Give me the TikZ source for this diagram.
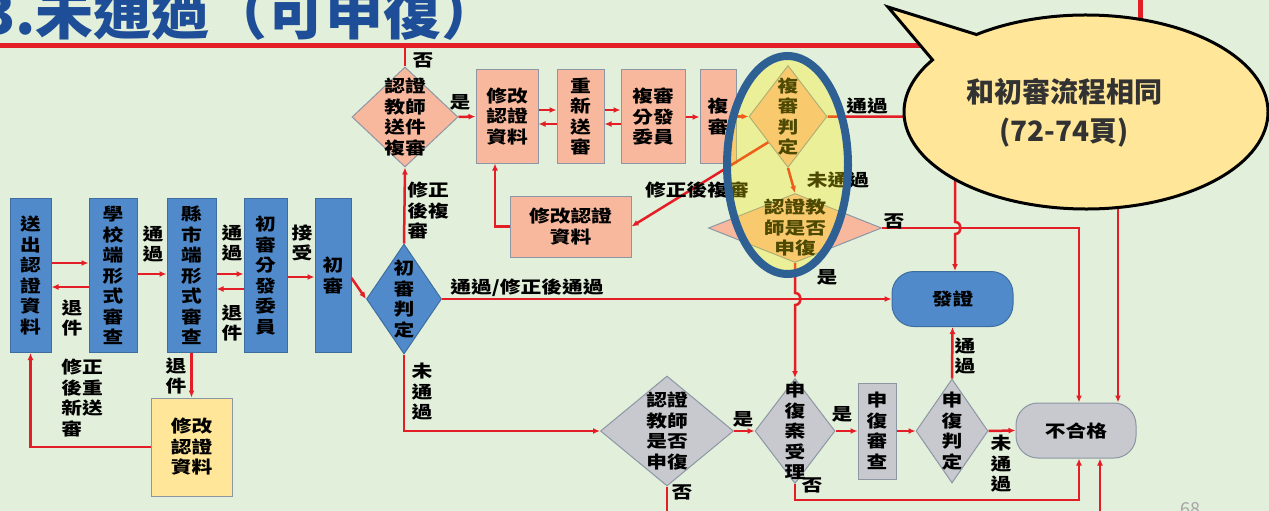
\documentclass[tikz,border=0pt]{standalone}
\usepackage{fontspec}
\setmainfont{Noto Sans CJK TC}
\newfontfamily\dgfont[FakeStretch=1.22]{Noto Sans CJK TC}
\usetikzlibrary{shapes.geometric,arrows.meta,calc}
\definecolor{bgGreen}{RGB}{226,239,218}
\definecolor{lineRed}{RGB}{228,30,38}
\definecolor{titleBlue}{RGB}{31,78,152}
\definecolor{boxBlue}{RGB}{80,138,203}
\definecolor{edgeBlue}{RGB}{62,110,160}
\definecolor{boxPink}{RGB}{247,184,158}
\definecolor{boxGray}{RGB}{200,201,206}
\definecolor{edgeGray}{RGB}{140,150,165}
\definecolor{boxYellow}{RGB}{255,230,153}
\definecolor{ringBlue}{RGB}{46,96,148}
\definecolor{textDark}{RGB}{50,50,50}
\begin{document}
\begin{tikzpicture}[x=1pt, y=1pt, >={Latex[length=7pt,width=6pt]},
  txt/.style = {font=\dgfont\bfseries\fontsize{17}{20.5}\selectfont, align=center, inner sep=0pt},
  lbl/.style = {txt, text=black},
  box/.style = {draw, line width=1pt, txt},
  bluebox/.style = {box, fill=boxBlue, draw=edgeBlue},
  pinkbox/.style = {box, fill=boxPink, draw=edgeGray},
  graybox/.style = {box, fill=boxGray, draw=edgeGray},
  yellowbox/.style = {box, fill=boxYellow, draw=edgeGray},
  dia/.style = {diamond, draw, line width=1pt, inner sep=0pt},
  bluedia/.style = {dia, fill=boxBlue, draw=edgeBlue},
  pinkdia/.style = {dia, fill=boxPink, draw=edgeGray},
  graydia/.style = {dia, fill=boxGray, draw=edgeGray},
  endbox/.style = {box, rounded corners=22pt, minimum width=121, minimum height=55},
  flow/.style = {draw=lineRed, line width=2.5pt},
  arr/.style = {flow, ->}]

  \useasboundingbox (0,0) rectangle (1269,-511);
  \fill[bgGreen] (0,0) rectangle (1269,-511);
  \draw[lineRed, line width=5pt] (-5,-46) -- (1140,-46) -- (1140,5);

  \foreach \nm/\x/\w/\txt in {send/30.5/41/{送\\出\\認\\證\\資\\料},
      school/113/48/{學\\校\\端\\形\\式\\審\\查}, county/191.5/49/{縣\\市\\端\\形\\式\\審\\查},
      assign/265.5/43/{初\\審\\分\\發\\委\\員}, first/333/36/{初\\審}}
    \node[bluebox, minimum width=\w, minimum height=154] (\nm) at (\x,-275.5) {\txt};

  \node[bluedia, minimum width=75, minimum height=110, label={[txt]center:初\\審\\判\\定}] (judge1) at (404,-299) {};
  \node[yellowbox, minimum width=81, minimum height=98] (modC) at (191.5,-447) {修改\\認證\\資料};

  \node[pinkdia, minimum width=106, minimum height=100, label={[txt]center:認證\\教師\\送件\\複審}] (sendrev) at (405,-117) {};
  \node[pinkbox, minimum width=62, minimum height=93] (modA) at (507,-116.5) {修改\\認證\\資料};
  \node[pinkbox, minimum width=47, minimum height=93] (resend) at (580.5,-116.5) {重\\新\\送\\審};
  \node[pinkbox, minimum width=64, minimum height=93] (assign2) at (653,-116.5) {複審\\分發\\委員};
  \node[pinkbox, minimum width=36, minimum height=93] (rev) at (718,-116.5) {複\\審};
  \node[pinkdia, minimum width=78, minimum height=102, label={[txt]center:複\\審\\判\\定}] (revjudge) at (788,-116.5) {};
  \node[pinkbox, minimum width=121, minimum height=61] (modB) at (570.5,-226.5) {修改認證\\資料};
  \node[pinkdia, minimum width=173, minimum height=69, label={[txt]center:認證教\\師是否\\申復}] (appealQ) at (795,-228) {};

  \node[endbox, fill=boxBlue, draw=edgeBlue] (issue) at (952.5,-299) {發證};
  \node[endbox, fill=boxGray, draw=edgeGray, minimum width=120] (fail) at (1076,-430.5) {不合格};

  \node[graydia, minimum width=133, minimum height=110, label={[txt]center:認證\\教師\\是否\\申復}] (appealL) at (667,-431) {};
  \node[graydia, minimum width=80, minimum height=105, label={[txt]center:申\\復\\案\\受\\理}] (accept) at (795,-431) {};
  \node[graybox, minimum width=38, minimum height=96] (appealrev) at (877,-431) {申\\復\\審\\查};
  \node[graydia, minimum width=72, minimum height=104, label={[txt]center:申\\復\\判\\定}] (appealjudge) at (952,-431) {};

  \coordinate (topOut) at (405,-46);
  \coordinate (bottomOut) at (667,-511);
  \coordinate (failIn) at (1100,-511);
  \coordinate (ballOut) at (1118,-150);

  \draw[arr] (send.east |- 0,-263) -- (school.west |- 0,-263);
  \draw[arr] (school.west |- 0,-287) -- (send.east |- 0,-287);
  \draw[arr] (school.east |- 0,-274) -- (county.west |- 0,-274);
  \draw[arr] (county.east |- 0,-274) -- (assign.west |- 0,-274);
  \draw[arr] (assign.west |- 0,-289) -- (county.east |- 0,-289);
  \draw[arr] (assign.east |- 0,-277) -- (first.west |- 0,-277);
  \draw[arr] (first.east |- 0,-278) -- (judge1.west);
  \draw[arr] (county.south) -- (modC.north);
  \draw[arr] (modC.west) -| (send.south);

  \draw[arr] (judge1.north) -- (sendrev.south);
  \draw[flow] (sendrev.north) -- (topOut);
  \draw[arr] (sendrev.east) -- (modA.west);
  \draw[arr] (modA.east |- 0,-110) -- (resend.west |- 0,-110);
  \draw[arr] (resend.west |- 0,-124) -- (modA.east |- 0,-124);
  \draw[arr] (resend.east |- 0,-110) -- (assign2.west |- 0,-110);
  \draw[arr] (assign2.west |- 0,-124) -- (resend.east |- 0,-124);
  \draw[arr] (assign2.east |- 0,-117) -- (rev.west |- 0,-117);
  \draw[arr] (rev.east |- 0,-116.5) -- (revjudge.west);
  \draw[arr] (revjudge.east) -- (955,-116.5) -- (955,-222) to[out=0, in=0, looseness=1.6] (955,-234) -- (issue.north -| 955,0);
  \draw[arr] (revjudge.south) -- (appealQ.north);
  \draw[arr] (revjudge.south west) -- (modB.east);
  \draw[arr] (modB.west) -| ([xshift=-12pt]modA.south);
  \draw[arr] (appealQ.east) -| (fail.north -| 1079,0);
  \draw[arr] (appealQ.south) -- (795,-293) to[out=0, in=0, looseness=1.6] (795,-305) -- (accept.north);
  \draw[arr] (ballOut) -- (fail.north -| ballOut);

  \draw[arr] (judge1.east) -- (issue.west);
  \draw[arr] (judge1.south) |- (appealL.west);
  \draw[flow] (appealL.south) -- (bottomOut);
  \draw[arr] (appealL.east) -- (accept.west);
  \draw[arr] (accept.east) -- (appealrev.west);
  \draw[arr] (appealrev.east) -- (appealjudge.west);
  \draw[arr] (appealjudge.north) -- (issue.south);
  \draw[arr] (appealjudge.east) -- (fail.west);
  \draw[arr] (accept.south) -- ++(0,-16) -| (fail.south -| 1079,0);
  \draw[arr] (failIn) -- (fail.south -| failIn);

  \node[lbl] (l1) at (72,-318) {退\\件};
  \node[lbl] (l2) at (153,-244) {通\\過};
  \node[lbl] (l3) at (232,-243) {通\\過};
  \node[lbl] (l4) at (232,-323) {退\\件};
  \node[lbl] (l5) at (302,-243) {接\\受};
  \node[lbl] (l6) at (176,-376) {退\\件};
  \node[lbl, align=left] (l7) at (82,-398) {修正\\後重\\新送\\審};
  \node[lbl, align=left] (l8) at (428,-211) {修正\\後複\\審};
  \node[lbl] (l9) at (423,-60) {否};
  \node[lbl] (l10) at (460,-102) {是};
  \node[lbl] (l11) at (867,-106) {通過};
  \node[lbl] (l12) at (838,-180) {未通過};
  \node[lbl] (l13) at (697,-190) {修正後複審};
  \node[lbl] (l14) at (894,-221) {否};
  \node[lbl] (l15) at (827,-277) {是};
  \node[lbl] (l16) at (527,-288) {通過/修正後通過};
  \node[lbl] (l17) at (422,-392) {未\\通\\過};
  \node[lbl] (l18) at (682,-492) {否};
  \node[lbl] (l19) at (743,-419) {是};
  \node[lbl] (l20) at (842,-414) {是};
  \node[lbl] (l21) at (812,-485) {否};
  \node[lbl] (l22) at (965,-356) {通\\過};
  \node[lbl] (l23) at (1001,-464) {未\\通\\過};

  \draw[ringBlue, line width=8pt, fill=yellow, fill opacity=0.3] (787.5,-165) ellipse[x radius=60.5, y radius=109];

  \filldraw[draw=black, line width=3pt, fill=boxYellow] ($(1086,-112)+(127:182 and 97)$)
    arc[start angle=127, end angle=-212.5, x radius=182, y radius=97] -- (888,-7) -- cycle;
  \node[font=\bfseries\fontsize{28}{39}\selectfont, text=textDark, align=center] (note) at (1064,-113) {和初審流程相同\\(72-74頁)};

  \node[font=\bfseries\fontsize{58}{58}\selectfont, text=titleBlue, anchor=base west, inner sep=0pt] (title) at (-20,-35) {3.未通過（可申復）};
  \node[font=\fontsize{18}{18}\selectfont, text=gray!70, anchor=north, inner sep=0pt] (pagenum) at (1190,-502) {68};
\end{tikzpicture}
\end{document}
